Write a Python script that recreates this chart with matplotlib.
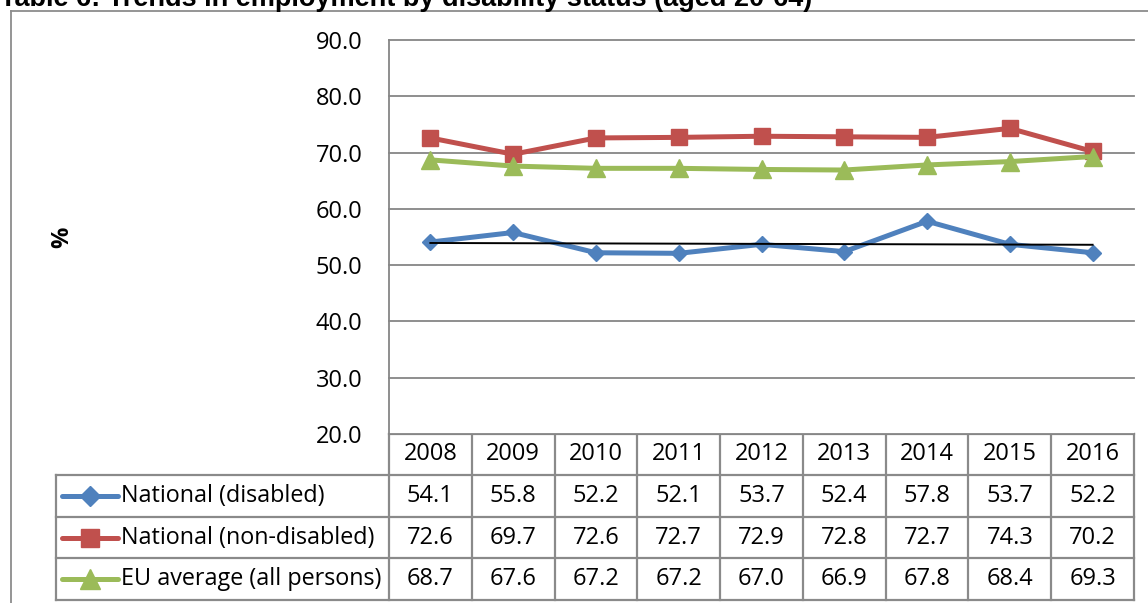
import numpy as np
import matplotlib
matplotlib.use("Agg")
import matplotlib.pyplot as plt
from matplotlib.lines import Line2D

# employment rate (%), aged 20-64
years = ["2008", "2009", "2010", "2011", "2012", "2013", "2014", "2015", "2016"]
disabled = [54.1, 55.8, 52.2, 52.1, 53.7, 52.4, 57.8, 53.7, 52.2]
non_disabled = [72.6, 69.7, 72.6, 72.7, 72.9, 72.8, 72.7, 74.3, 70.2]
eu_average = [68.7, 67.6, 67.2, 67.2, 67.0, 66.9, 67.8, 68.4, 69.3]
series_names = ["National (disabled)", "National (non-disabled)", "EU average (all persons)"]
yticks = [20, 30, 40, 50, 60, 70, 80, 90]

W, H = 1148, 603
BLUE, RED, GREEN = "#4F81BD", "#C0504D", "#9BBB59"
GRID = "#868686"
FONT = "Open Sans"

plt.rcParams["font.family"] = [FONT, "DejaVu Sans"]


def fx(px):
    return px / W


def fy(py):
    return 1 - py / H


fig = plt.figure(figsize=(W / 100, H / 100), dpi=100)

# outer chart frame (only top and left edges fall inside the image)
fig.add_artist(Line2D([fx(11), fx(11)], [fy(11), 0], color="#8c8c8c", lw=1.3))
fig.add_artist(Line2D([fx(11), 1], [fy(11), fy(11)], color="#8c8c8c", lw=1.3))

# caption sits above the frame, mostly outside the image
fig.text(fx(0), fy(6), "Table 6: Trends in employment by disability status (aged 20-64)",
         family="Liberation Sans", weight="bold", fontsize=19.5, va="baseline", ha="left")

# plot area
left, right, top, bottom = 389, 1134, 40, 434
ax = fig.add_axes([fx(left), fy(bottom), fx(right) - fx(left), fy(top) - fy(bottom)])
x = np.arange(len(years))
ax.set_xlim(-0.5, len(years) - 0.5)
ax.set_ylim(20, 90)
ax.set_yticks(yticks)
ax.set_yticklabels([f"{v:.1f}" for v in yticks], fontsize=17)
ax.tick_params(axis="y", length=0, pad=19)
ax.set_xticks([])
for s in ["top", "right", "bottom"]:
    ax.spines[s].set_visible(False)
ax.spines["left"].set_color(GRID)
ax.spines["left"].set_linewidth(1.3)
ax.yaxis.grid(True, color=GRID, lw=1.3)
for gl in ax.get_ygridlines():
    gl.set_clip_on(False)
ax.set_axisbelow(True)

styles = [(disabled, BLUE, "D", 8.5), (non_disabled, RED, "s", 12), (eu_average, GREEN, "^", 13)]
for vals, col, mk, ms in styles:
    ax.plot(x, vals, color=col, lw=3.6, marker=mk, ms=ms, clip_on=False, zorder=3)

# linear trend of the disabled series
coef = np.polyfit(x, disabled, 1)
ax.plot(x, np.polyval(coef, x), color="black", lw=1.4, zorder=5)

fig.text(fx(62), fy(237), "%", rotation=90, fontsize=17, weight="bold", ha="center", va="center")

# data table under the plot
tb = fig.add_axes([0, 0, 1, 1], zorder=-1)
tb.set_xlim(0, W)
tb.set_ylim(H, 0)
tb.axis("off")
TL = "#8a8a8a"
cw = (right - left) / len(years)
row_edges = [434, 475, 517, 558, 600]
leg_left = 56

# horizontal rules
tb.plot([left, right], [row_edges[0]] * 2, color=TL, lw=1.6)
for ry in row_edges[1:]:
    tb.plot([leg_left, right], [ry, ry], color=TL, lw=1.6)
# vertical rules
for i in range(len(years) + 1):
    tb.plot([left + i * cw] * 2, [row_edges[0], row_edges[-1]], color=TL, lw=1.6)
tb.plot([leg_left, leg_left], [row_edges[1], row_edges[-1]], color=TL, lw=1.6)

for i, yr in enumerate(years):
    tb.text(left + (i + 0.5) * cw, (row_edges[0] + row_edges[1]) / 2, yr,
            fontsize=17, ha="center", va="center")

for r, (name, (vals, col, mk, ms)) in enumerate(zip(series_names, styles)):
    yc = (row_edges[r + 1] + row_edges[r + 2]) / 2
    tb.plot([62, 118], [yc, yc], color=col, lw=3.6, solid_capstyle="round")
    tb.plot([90], [yc], color=col, marker=mk, ms=ms + 1.5)
    tb.text(121, yc, name, fontsize=16.8, ha="left", va="center")
    for i, v in enumerate(vals):
        tb.text(left + (i + 0.5) * cw, yc, f"{v:.1f}", fontsize=17, ha="center", va="center")

fig.savefig("out.png", dpi=100)
